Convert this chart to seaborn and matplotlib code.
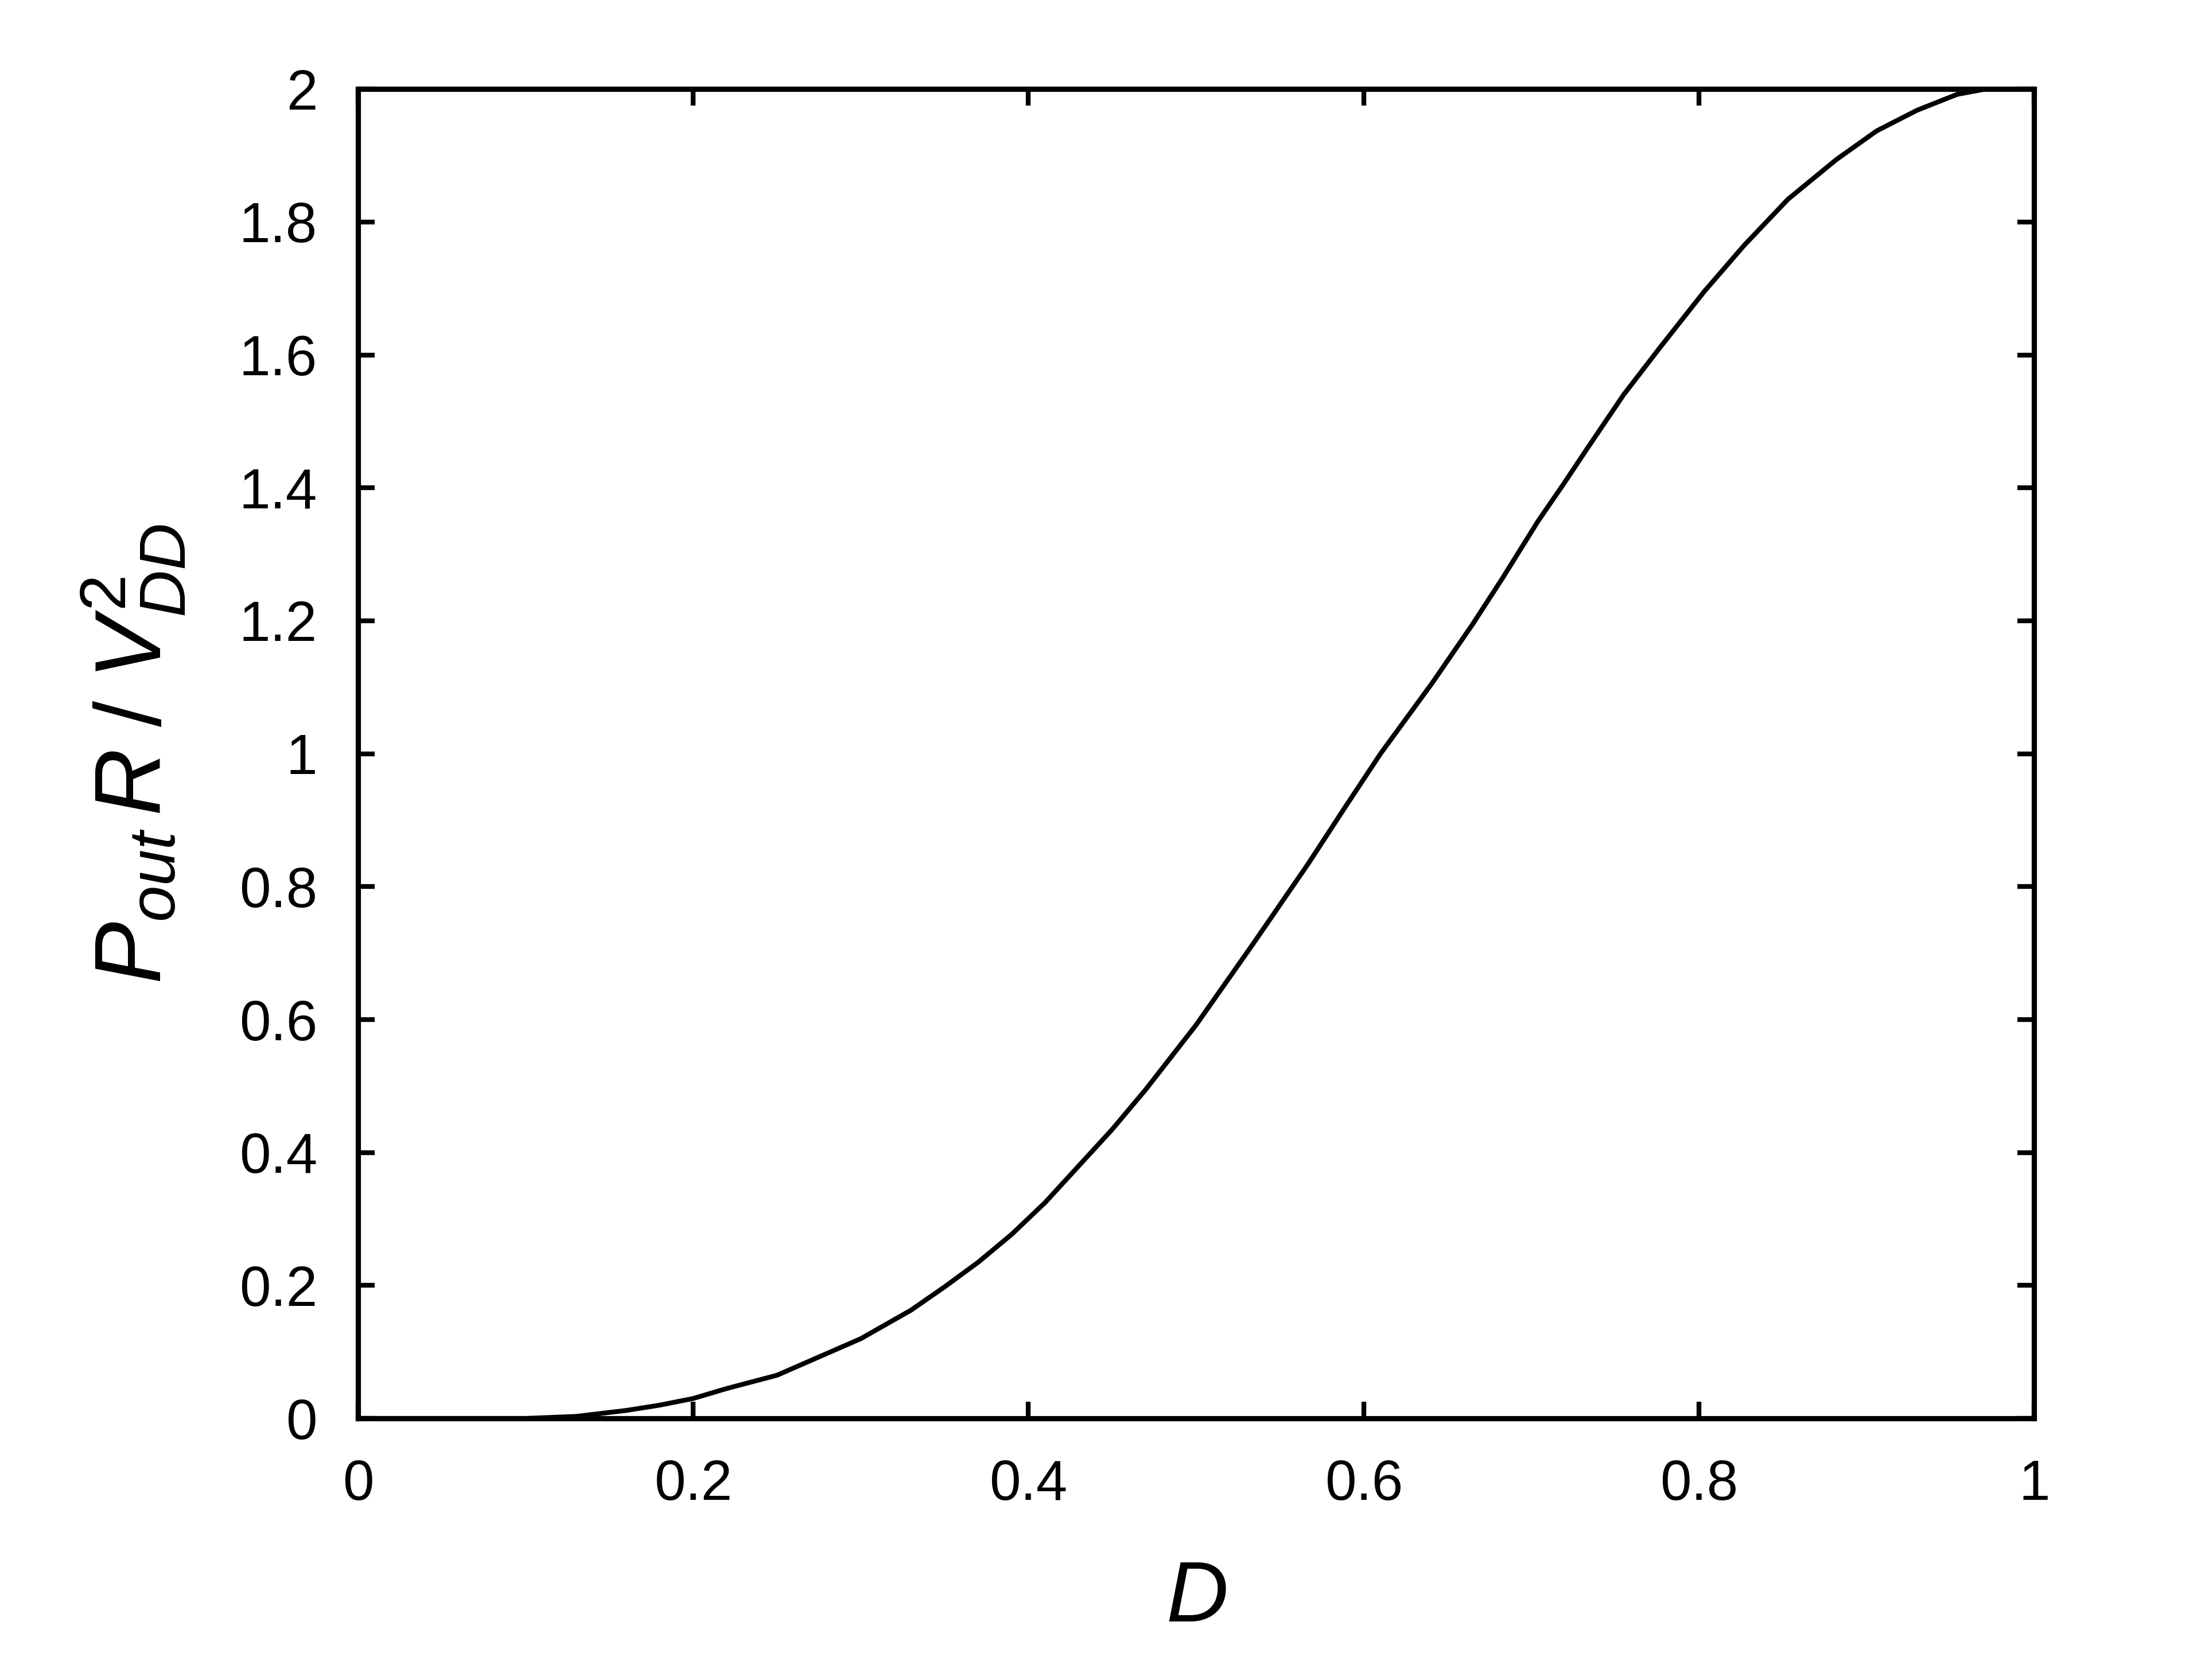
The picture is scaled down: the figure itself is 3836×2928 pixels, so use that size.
import numpy as np
import pandas as pd
import matplotlib
matplotlib.use("Agg")
import matplotlib.pyplot as plt
import seaborn as sns

# values
duty = [0.0, 0.05, 0.10, 0.13, 0.16, 0.18, 0.20, 0.22, 0.25, 0.30, 0.33, 0.35,
        0.37, 0.39, 0.41, 0.43, 0.45, 0.47, 0.50, 0.534, 0.567, 0.589, 0.61,
        0.641, 0.665, 0.683, 0.704, 0.719, 0.733, 0.755, 0.777, 0.803, 0.827,
        0.853, 0.882, 0.906, 0.93, 0.954, 0.971]
power = [0.0, 0.0, 0.0, 0.003, 0.012, 0.02, 0.03, 0.045, 0.065, 0.12, 0.163, 0.198,
         0.235, 0.277, 0.325, 0.38, 0.435, 0.495, 0.592, 0.714, 0.835, 0.92, 1.0,
         1.107, 1.195, 1.265, 1.35, 1.405, 1.458, 1.54, 1.612, 1.695, 1.765,
         1.834, 1.894, 1.937, 1.968, 1.992, 2.0]

x_ticks = [0, 0.2, 0.4, 0.6, 0.8, 1]
x_labels = ["0", "0.2", "0.4", "0.6", "0.8", "1"]
y_ticks = [0, 0.2, 0.4, 0.6, 0.8, 1, 1.2, 1.4, 1.6, 1.8, 2]
y_labels = ["0", "0.2", "0.4", "0.6", "0.8", "1", "1.2", "1.4", "1.6", "1.8", "2"]

df = pd.DataFrame({"D": duty, "P": power})

sns.set_theme(style="ticks")
plt.rcParams["font.family"] = ["Liberation Sans", "DejaVu Sans"]
plt.rcParams["mathtext.fontset"] = "custom"
plt.rcParams["mathtext.rm"] = "Liberation Sans"
plt.rcParams["mathtext.it"] = "Liberation Sans:italic"
plt.rcParams["text.color"] = "black"
plt.rcParams["axes.labelcolor"] = "black"

fig = plt.figure(figsize=(3837 / 300, 2928 / 300), dpi=300)
ax = fig.add_axes([0.1626, 0.1557, 0.924 - 0.1626, 0.947 - 0.1557])

sns.lineplot(data=df, x="D", y="P", color="black", linewidth=2.0, ax=ax)

ax.set_xlim(0, 1)
ax.set_ylim(0, 2)
ax.set_xticks(x_ticks)
ax.set_xticklabels(x_labels)
ax.set_yticks(y_ticks)
ax.set_yticklabels(y_labels)

for side in ["left", "right", "top", "bottom"]:
    ax.spines[side].set_visible(True)
    ax.spines[side].set_linewidth(2.2)
    ax.spines[side].set_color("black")

ax.tick_params(direction="in", length=7, width=2.0, top=True, right=True,
               labelsize=23.5, pad=17, colors="black")

ax.set_xlabel(r"$D$", fontsize=36, labelpad=20)
ax.set_ylabel(r"$P_{out}\,R\;/\;V_{DD}^{2}$", fontsize=39, labelpad=22)

fig.savefig("out.png", dpi=300, facecolor="white")
